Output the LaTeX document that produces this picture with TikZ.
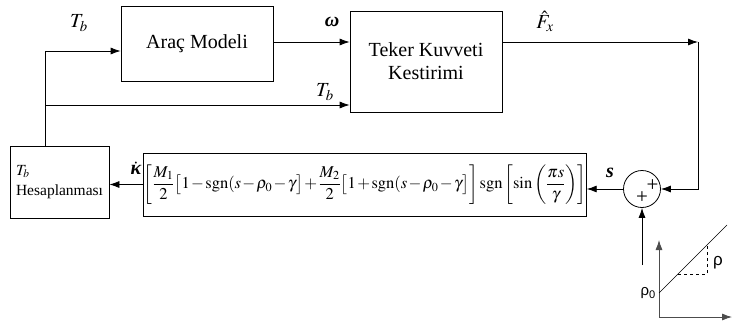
\documentclass[tikz,border=0pt]{standalone}
\usepackage{amsmath}
\usepackage{mathptmx}
\usepackage{fontspec}
\setmainfont{Liberation Serif}
\newfontfamily\grsans{Liberation Sans}
\usetikzlibrary{arrows.meta}
\begin{document}
\begin{tikzpicture}[
		x=1pt,y=-1pt,
		block/.style={draw,line width=0.8pt,inner sep=0pt,font=\fontsize{20}{23}\selectfont},
		sig/.style={draw,line width=0.8pt,-{Latex[length=10pt,width=7pt]}},
		wire/.style={draw,line width=0.6pt},
		lbl/.style={inner sep=0pt,font=\fontsize{20}{22}\selectfont},
		axis/.style={draw=black!70,line width=0.8pt,-{Latex[length=10pt,width=7pt]}},
		sumcirc/.style={draw,circle,line width=0.8pt,minimum size=37pt,inner sep=0pt},
		plus/.style={inner sep=0pt,font=\fontsize{21}{21}\selectfont}
	]
	\useasboundingbox (0,0) rectangle (734,327);
	\node[block,minimum width=152pt,minimum height=75pt] (arac) at (197,43.5) {Araç Modeli};
	\node[block,minimum width=152pt,minimum height=101pt,align=center] (teker) at (426,61.5) {Teker Kuvveti\\Kestirimi};
	\node[block,minimum width=99pt,minimum height=72pt,align=left,font=\fontsize{15.5}{20}\selectfont] (hesap) at (59.5,182) {$T_b$\\Hesaplanması};
	\node[block,minimum width=434pt,minimum height=63pt,font=\fontsize{16.5}{20}\selectfont] (formula) at (365,184.5)
		{\medmuskip=1.5mu $\left[\dfrac{M_1}{2}\bigl[1-\mathrm{sgn}(s-\rho_0-\gamma\bigr]+\dfrac{M_2}{2}\bigl[1+\mathrm{sgn}(s-\rho_0-\gamma\bigr]\right]\mathrm{sgn}\left[\sin\left(\dfrac{\pi s}{\gamma}\right)\right]$};
	\node[sumcirc] (sum) at (642,189) {};
	\node[plus] (plusa) at (652.5,186) {+};
	\node[plus] (plusb) at (642,197.5) {+};
	\coordinate (tbsplit) at (45,105);
	\coordinate (corner) at (698,42);
	\coordinate (rhoin) at (642,265);
	\coordinate (orig) at (659,317);
	\coordinate (ytop) at (659,240);
	\coordinate (xend) at (732,317);
	\coordinate (lina) at (659,293);
	\coordinate (linb) at (727,225);
	\coordinate (dasha) at (678,274);
	\coordinate (dashb) at (707,274);
	\coordinate (dashc) at (707,246);

	\draw[sig] (hesap.north -| tbsplit) |- ([yshift=-7.5pt]arac.west);
	\draw[sig] (tbsplit) -- (tbsplit -| teker.west);
	\draw[sig] ([yshift=1.5pt]arac.east) -- ([yshift=1.5pt]arac.east -| teker.west);
	\draw[sig] ([yshift=19.5pt]teker.east) -- (corner);
	\draw[sig] (corner) |- (sum.east);
	\draw[sig] (sum.west) -- (sum.west -| formula.east);
	\draw[sig] (formula.west) -- (formula.west -| hesap.east);
	\draw[sig] (rhoin) -- (sum.south);

	\draw[axis] (orig) -- (ytop);
	\draw[axis] (orig) -- (xend);
	\draw[wire] (lina) -- (linb);
	\draw[wire,dashed] (dasha) -- (dashb) -- (dashc);

	\node[lbl] (tbtop) at (79,23) {$T_b$};
	\node[lbl] (omega) at (332,22) {\bfseries\itshape ω};
	\node[lbl] (tbmid) at (325,92) {$T_b$};
	\node[lbl] (fx) at (545,21) {$\hat{F}_x$};
	\node[lbl] (slbl) at (610,173) {\bfseries\itshape s};
	\node[lbl] (kappa) at (136,168) {$\dot{\text{\bfseries\itshape κ}}$};
	\node[lbl,font=\grsans\fontsize{17}{17}\selectfont] (rho) at (718,263) {ρ};
	\node[lbl,font=\grsans\fontsize{15}{15}\selectfont,anchor=east] (rhozero) at (656,293) {ρ\textsubscript{0}};
\end{tikzpicture}
\end{document}
